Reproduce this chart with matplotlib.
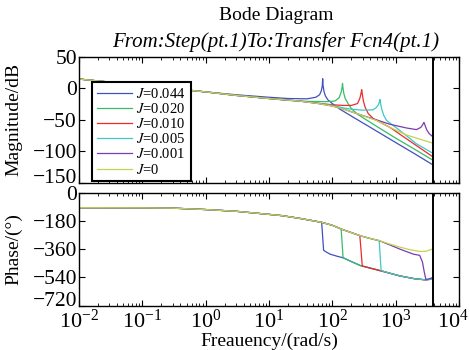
import matplotlib
matplotlib.use("Agg")
import matplotlib.pyplot as plt
from matplotlib.ticker import LogLocator
from matplotlib.transforms import ScaledTranslation

plt.rcParams['font.family'] = ['Liberation Serif', 'DejaVu Serif']
plt.rcParams['mathtext.fontset'] = 'stix'

# legend labels and colours
labels = ["$J$=0.044", "$J$=0.020", "$J$=0.010", "$J$=0.005", "$J$=0.001", "$J$=0"]
colors = ['#4050c0', '#35bd68', '#ee2a2a', '#3cc8c8', '#7a3cb0', '#c2d451']
decades = [1e-2, 1e-1, 1e0, 1e1, 1e2, 1e3, 1e4]

# magnitude (dB)
w_mag_044 = [0.01, 0.1, 1, 3, 10, 20, 40, 55, 63, 67, 69.5, 70.5, 71.5, 74, 78, 85, 100, 132, 200, 400, 1000, 2000, 3850]
mag_044 = [15, 5, -5.5, -10, -14, -16, -16.5, -14, -10, -4, 4, 15.5, 5, -5, -12, -18, -24, -33, -44, -62, -86, -104, -121.4]

w_mag_020 = [0.01, 0.1, 1, 3, 10, 20, 40, 80, 110, 128, 138, 143, 145, 147, 152, 160, 180, 200, 250, 444, 1000, 1480, 3850]
mag_020 = [15, 5, -5.5, -11, -16, -19, -20.5, -21, -20, -15, -6, 2, 8, 2, -8, -16, -25, -32, -41, -57, -79, -89, -114]

w_mag_010 = [0.01, 0.1, 1, 3, 10, 30, 60, 100, 150, 200, 250, 272, 284, 291, 298, 310, 330, 370, 444, 813, 1480, 3850]
mag_010 = [15, 5, -5.5, -11, -16, -20, -23.5, -26, -27, -27, -24, -16, -8, -2, -9, -20, -30, -40, -48, -62, -80, -108.6]

w_mag_005 = [0.01, 0.1, 1, 3, 10, 30, 60, 100, 150, 200, 300, 440, 500, 540, 558, 566, 575, 600, 650, 720, 1170, 2130, 3850]
mag_005 = [15, 5, -5.5, -11, -16, -20, -23.5, -27, -31, -33, -34.5, -34, -30, -25, -20, -17.6, -22, -32, -43, -51, -67, -88, -103]

w_mag_001 = [0.01, 0.1, 1, 3, 10, 30, 60, 100, 132, 300, 500, 813, 1500, 2130, 2500, 2700, 2800, 2900, 3100, 3400, 3850]
mag_001 = [15, 5, -5.5, -11, -16, -20, -24, -28, -31, -43, -50, -57, -63, -65.5, -62, -57, -53.8, -58, -66, -72, -76.7]

w_mag_0 = [0.01, 0.1, 1, 3, 10, 30, 60, 100, 132, 300, 500, 813, 1480, 2130, 3850]
mag_0 = [15, 5, -5.5, -11, -16, -20, -24, -28, -31, -43, -51, -62, -74, -79, -87]

# phase (deg)
w_ph_044 = [0.01, 0.1, 0.3, 1, 3, 10, 16, 30, 60, 68, 70.5, 73, 80, 92, 120, 150, 200, 280, 400, 570, 800, 1170, 2000, 2950, 3850]
ph_044 = [-92, -93, -95, -104, -115, -135, -143, -160, -182, -186, -280, -366, -376, -390, -404, -414, -438, -464, -480, -496, -512, -530, -548, -555, -550]

w_ph_020 = [0.01, 0.1, 0.3, 1, 3, 10, 16, 30, 68, 100, 138, 143, 148, 200, 280, 400, 570, 800, 1170, 2000, 2950, 3850]
ph_020 = [-92, -93, -95, -104, -115, -135, -143, -160, -186, -205, -228, -320, -414, -438, -464, -480, -496, -512, -530, -548, -555, -550]

w_ph_010 = [0.01, 0.1, 0.3, 1, 3, 10, 16, 30, 68, 100, 140, 200, 272, 285, 297, 400, 570, 800, 1170, 2000, 2950, 3850]
ph_010 = [-92, -93, -95, -104, -115, -135, -143, -160, -186, -205, -230, -252, -271, -370, -466, -480, -496, -512, -530, -548, -555, -550]

w_ph_005 = [0.01, 0.1, 0.3, 1, 3, 10, 16, 30, 68, 100, 140, 200, 280, 400, 550, 570, 590, 800, 1170, 2000, 2950, 3850]
ph_005 = [-92, -93, -95, -104, -115, -135, -143, -160, -186, -205, -230, -252, -273, -290, -303, -400, -495, -512, -530, -548, -555, -550]

w_ph_001 = [0.01, 0.1, 0.3, 1, 3, 10, 16, 30, 68, 100, 140, 200, 280, 400, 570, 800, 1170, 1900, 2400, 2650, 2850, 3000, 3300, 3850]
ph_001 = [-92, -93, -95, -104, -115, -135, -143, -160, -186, -205, -230, -252, -273, -290, -306, -330, -358, -390, -398, -440, -510, -552, -550, -540]

w_ph_0 = [0.01, 0.1, 0.3, 1, 3, 10, 16, 30, 68, 100, 140, 200, 280, 400, 570, 800, 1170, 1700, 2400, 3000, 3850]
ph_0 = [-92, -93, -95, -104, -115, -135, -143, -160, -186, -205, -230, -252, -273, -290, -305, -325, -345, -362, -373, -372, -357]

w_end = 3850

mag_sets = [(w_mag_044, mag_044), (w_mag_020, mag_020), (w_mag_010, mag_010),
            (w_mag_005, mag_005), (w_mag_001, mag_001), (w_mag_0, mag_0)]
ph_sets = [(w_ph_044, ph_044), (w_ph_020, ph_020), (w_ph_010, ph_010),
           (w_ph_005, ph_005), (w_ph_001, ph_001), (w_ph_0, ph_0)]

fig = plt.figure(figsize=(4.7, 3.5), dpi=100)
ax1 = fig.add_axes([0.168, 0.478, 0.8085, 0.359])
ax2 = fig.add_axes([0.168, 0.127, 0.8085, 0.3206])

for (w, m), c, lab in zip(mag_sets, colors, labels):
    ax1.semilogx(w, m, color=c, lw=0.9, label=lab)
for (w, p), c in zip(ph_sets, colors):
    ax2.semilogx(w, p, color=c, lw=0.9)

for ax in (ax1, ax2):
    ax.set_xlim(1e-2, 1e4)
    ax.set_xticks(decades)
    ax.xaxis.set_minor_locator(LogLocator(base=10, subs=range(2, 10), numticks=20))
    ax.axvline(w_end, color='black', lw=1.4)
    ax.tick_params(which='both', direction='in', top=True, right=True)
    ax.tick_params(axis='y', labelsize=15.5, pad=1.5)
    ax.tick_params(axis='x', labelsize=16, pad=3)
    ax.tick_params(which='major', length=4)
    ax.tick_params(which='minor', length=2.5)
    for s in ax.spines.values():
        s.set_linewidth(1.0)

ax1.set_ylim(-150, 50)
ax1.set_yticks([50, 0, -50, -100, -150])
ax1.tick_params(labelbottom=False)
ax1.get_yticklabels()[-1].set_va('baseline')
ax1.set_ylabel("Magnitude/dB", fontsize=14)
ax1.yaxis.set_label_coords(-0.15, 0.5)

ax2.set_ylim(-720, 0)
ax2.set_yticks([0, -180, -360, -540, -720])
ax2.get_yticklabels()[-1].set_va('baseline')
ax2.set_ylabel("Phase/(°)", fontsize=14)
ax2.yaxis.set_label_coords(-0.15, 0.5)
ax2.set_xlabel("Freauency/(rad/s)", fontsize=14, labelpad=0)

# keep the 10^4 label inside the figure
last = ax2.get_xticklabels()[-1]
last.set_transform(last.get_transform() + ScaledTranslation(-4 / 72, 0, fig.dpi_scale_trans))

leg = ax1.legend(loc='lower left', bbox_to_anchor=(0.034, 0.01), borderaxespad=0,
                 fontsize=10.5, handlelength=2.45, labelspacing=0.08, fancybox=False,
                 framealpha=1, edgecolor='black', borderpad=0.33, handletextpad=0.27)
leg.get_frame().set_linewidth(1.5)

fig.text(0.587, 0.957, "Bode Diagram", ha='center', va='center', fontsize=14)
fig.text(0.587, 0.881, "From:Step(pt.1)To:Transfer Fcn4(pt.1)", ha='center', va='center',
         fontsize=15, style='italic')

fig.savefig("out.png", dpi=100)
